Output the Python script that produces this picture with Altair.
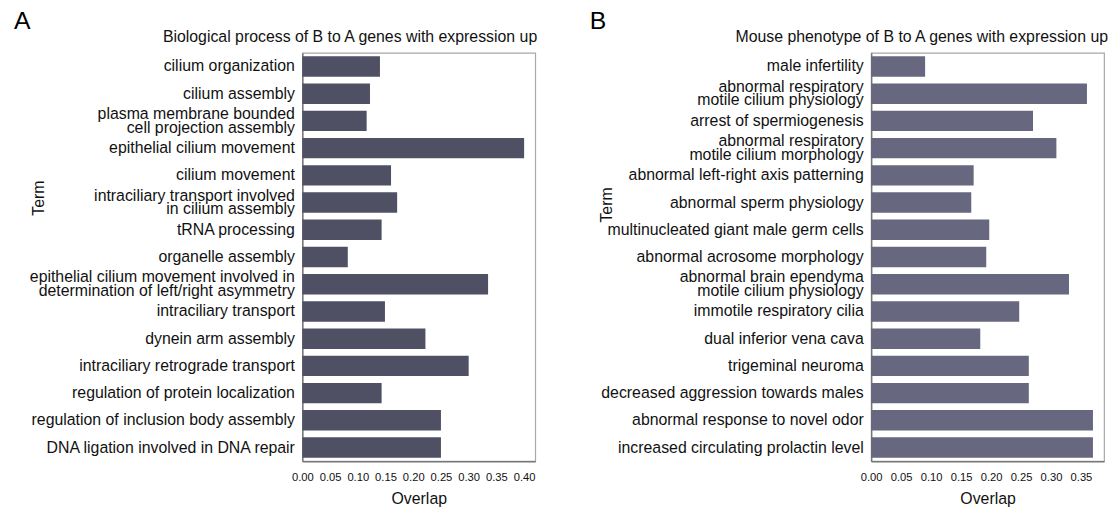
import altair as alt
import pandas as pd

bp_terms = [
    "cilium organization",
    "cilium assembly",
    "plasma membrane bounded\ncell projection assembly",
    "epithelial cilium movement",
    "cilium movement",
    "intraciliary transport involved\nin cilium assembly",
    "tRNA processing",
    "organelle assembly",
    "epithelial cilium movement involved in\ndetermination of left/right asymmetry",
    "intraciliary transport",
    "dynein arm assembly",
    "intraciliary retrograde transport",
    "regulation of protein localization",
    "regulation of inclusion body assembly",
    "DNA ligation involved in DNA repair",
]
bp_overlap = [0.140, 0.122, 0.116, 0.400, 0.160, 0.171, 0.143, 0.082,
              0.335, 0.149, 0.222, 0.300, 0.143, 0.250, 0.250]

mp_terms = [
    "male infertility",
    "abnormal respiratory\nmotile cilium physiology",
    "arrest of spermiogenesis",
    "abnormal respiratory\nmotile cilium morphology",
    "abnormal left-right axis patterning",
    "abnormal sperm physiology",
    "multinucleated giant male germ cells",
    "abnormal acrosome morphology",
    "abnormal brain ependyma\nmotile cilium physiology",
    "immotile respiratory cilia",
    "dual inferior vena cava",
    "trigeminal neuroma",
    "decreased aggression towards males",
    "abnormal response to novel odor",
    "increased circulating prolactin level",
]
mp_overlap = [0.090, 0.360, 0.270, 0.309, 0.171, 0.167, 0.197, 0.192,
              0.330, 0.247, 0.182, 0.263, 0.263, 0.370, 0.370]

bp_ticks = [0.00, 0.05, 0.10, 0.15, 0.20, 0.25, 0.30, 0.35, 0.40]
mp_ticks = [0.00, 0.05, 0.10, 0.15, 0.20, 0.25, 0.30, 0.35]

FONT = "Liberation Sans"
W, H = 235, 412


def panel(terms, vals, color, title, dmax, ticks, letter, lx, ly, tx, ty, ttx):
    df = pd.DataFrame({"Term": terms, "Overlap": vals})
    bars = alt.Chart(df).mark_bar(color=color).encode(
        x=alt.X(
            "Overlap:Q",
            scale=alt.Scale(domain=[0, dmax], nice=False, zero=True),
            axis=alt.Axis(
                values=ticks, format=".2f", grid=False, ticks=False,
                labelFontSize=11.3, labelPadding=11, labelColor="#111",
                title="Overlap", titleFontSize=16, titleFontWeight="normal",
                titleColor="#111", titlePadding=7, domainColor="#777",
                labelFlush=False,
            ),
        ),
        y=alt.Y(
            "Term:N",
            sort=None,
            scale=alt.Scale(paddingInner=0.25, paddingOuter=0.125),
            axis=alt.Axis(
                labelExpr="split(datum.label, '\\n')",
                labelFontSize=16, labelLimit=500, labelLineHeight=13.5,
                labelOffset={"condition": {"test": "indexof(datum.value, '\\n') >= 0",
                                           "value": -6.75}, "value": 0},
                labelColor="#111", ticks=False, labelPadding=8,
                title="Term", titleFontSize=16, titleFontWeight="normal",
                titleColor="#111", titleAngle=270, titleBaseline="middle",
                titleX=tx, titleY=ty, domainColor="#777",
            ),
        ),
    )
    lab = alt.Chart(pd.DataFrame({"letter": [letter]})).mark_text(
        fontSize=25, font=FONT, align="left", baseline="top", color="#000"
    ).encode(text="letter:N", x=alt.value(lx), y=alt.value(ly))
    ttl = alt.Chart(pd.DataFrame({"title": [title]})).mark_text(
        fontSize=16, font=FONT, align="right", baseline="alphabetic", color="#111"
    ).encode(text="title:N", x=alt.value(ttx), y=alt.value(-11))
    return alt.layer(bars, lab, ttl).properties(width=W, height=H)


a = panel(bp_terms, bp_overlap, "#4f5064",
          "Biological process of B to A genes with expression up",
          0.42, bp_ticks, "A", -291, -44, -266, 146, 237)
b = panel(mp_terms, mp_overlap, "#67677f",
          "Mouse phenotype of B to A genes with expression up",
          0.3885, mp_ticks, "B", -284, -44, -267, 153, 239)

chart = alt.hconcat(a, b, spacing=51).configure(
    font=FONT,
    padding={"left": 5, "top": -2, "right": 0, "bottom": 0},
).configure_view(stroke="#a8a8a8", strokeWidth=1.2).configure_axis(
    labelFont=FONT, titleFont=FONT, domainWidth=1.5
)

chart.save("out.html", embed_options={"renderer": "svg", "actions": False})
